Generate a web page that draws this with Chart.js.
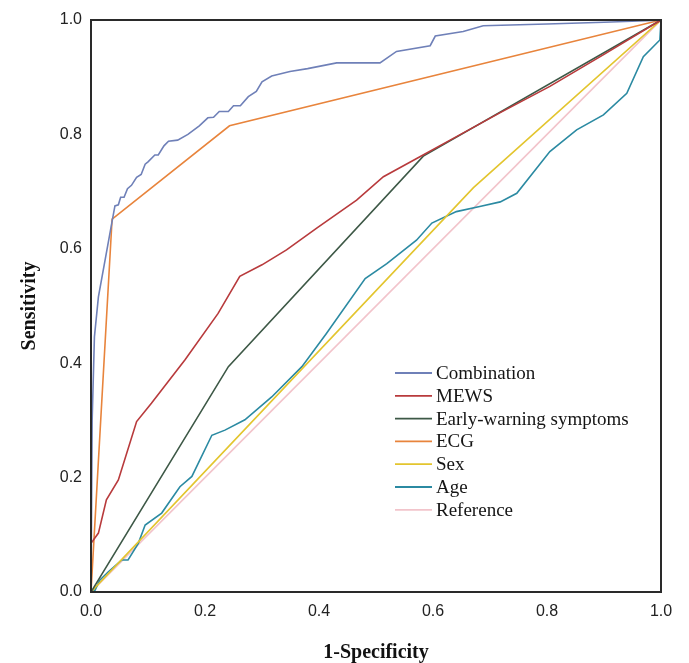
<!DOCTYPE html>
<html>
<head>
<meta charset="utf-8">
<script src="https://cdn.jsdelivr.net/npm/chart.js@4"></script>
<style>
  html, body { margin: 0; padding: 0; background: #fff; }
  #wrap { width: 689px; height: 663px; }
</style>
</head>
<body>
<div id="wrap"><canvas id="roc" width="689" height="663"></canvas></div>
<script>
// ROC curves: [1-specificity, sensitivity]
const seriesNames = ['Combination', 'MEWS', 'Early-warning symptoms', 'ECG', 'Sex', 'Age', 'Reference'];
const seriesColors = ['#6f80b8', '#b83a3c', '#3d5846', '#e8843c', '#e3c52e', '#2b8aa2', '#f2c4cb'];

const combination = [
    [0, 0], [0.002, 0.30], [0.006, 0.446], [0.013, 0.516], [0.039, 0.659],
    [0.042, 0.675], [0.048, 0.677], [0.052, 0.69], [0.058, 0.69], [0.064, 0.705],
    [0.071, 0.711], [0.08, 0.725], [0.088, 0.73], [0.095, 0.748], [0.10, 0.752],
    [0.112, 0.764], [0.118, 0.764], [0.128, 0.78], [0.136, 0.788], [0.152, 0.79],
    [0.17, 0.80], [0.19, 0.815], [0.205, 0.829], [0.215, 0.83], [0.225, 0.84],
    [0.241, 0.84], [0.25, 0.85], [0.262, 0.85], [0.276, 0.866], [0.29, 0.875],
    [0.30, 0.892], [0.317, 0.902], [0.349, 0.91], [0.38, 0.915], [0.431, 0.925],
    [0.507, 0.925], [0.536, 0.945], [0.595, 0.955], [0.604, 0.972], [0.653, 0.98],
    [0.688, 0.99], [0.8, 0.993], [0.9, 0.996], [0.986, 0.999], [1, 1]
];
const mews = [
    [0, 0], [0, 0.085], [0.013, 0.103], [0.027, 0.161], [0.048, 0.196], [0.080, 0.298],
    [0.106, 0.330], [0.165, 0.406], [0.223, 0.487], [0.261, 0.552], [0.30, 0.572],
    [0.343, 0.598], [0.396, 0.636], [0.466, 0.685], [0.513, 0.726], [0.577, 0.761],
    [0.63, 0.79], [0.718, 0.838], [0.805, 0.884], [0.9, 0.94], [1, 1]
];
const earlyWarning = [[0, 0], [0.241, 0.394], [0.583, 0.762], [1, 1]];
const ecg = [[0, 0], [0.037, 0.652], [0.243, 0.815], [1, 1]];
const sex = [[0, 0], [0.671, 0.707], [1, 1]];
const age = [
    [0, 0], [0.007, 0.003], [0.015, 0.02], [0.03, 0.035], [0.054, 0.056], [0.065, 0.056],
    [0.083, 0.085], [0.095, 0.117], [0.124, 0.138], [0.156, 0.184], [0.177, 0.202],
    [0.212, 0.274], [0.235, 0.283], [0.270, 0.301], [0.317, 0.341], [0.37, 0.394],
    [0.413, 0.452], [0.481, 0.548], [0.519, 0.574], [0.571, 0.615], [0.598, 0.645],
    [0.641, 0.665], [0.682, 0.674], [0.718, 0.682], [0.747, 0.697], [0.805, 0.77],
    [0.852, 0.808], [0.899, 0.834], [0.94, 0.872], [0.969, 0.936], [0.998, 0.965], [1, 1]
];
const reference = [[0, 0], [1, 1]];

const axisTicks = [0, 0.2, 0.4, 0.6, 0.8, 1.0];

const allSeries = [combination, mews, earlyWarning, ecg, sex, age, reference];

const datasets = allSeries.map((pts, i) => ({
    label: seriesNames[i],
    data: pts.map(p => ({ x: p[0], y: p[1] })),
    borderColor: seriesColors[i],
    borderWidth: 1.6,
    pointRadius: 0,
    tension: 0,
    showLine: true,
    fill: false
}));

// white page + frame round the plot area
const framePlugin = {
    id: 'frame',
    beforeDraw(chart) {
        const ctx = chart.ctx;
        ctx.save();
        ctx.fillStyle = '#fff';
        ctx.fillRect(0, 0, chart.width, chart.height);
        ctx.restore();
    },
    afterDatasetsDraw(chart) {
        const { ctx, chartArea: a } = chart;
        ctx.save();
        ctx.strokeStyle = '#2a2a2a';
        ctx.lineWidth = 2;
        ctx.strokeRect(a.left, a.top, a.right - a.left, a.bottom - a.top);
        ctx.restore();
    }
};

// legend sits inside the plot, lower right
const insideLegend = {
    id: 'insideLegend',
    afterDraw(chart) {
        const { ctx, chartArea: a } = chart;
        const x0 = a.left + 304;
        const y0 = a.top + 353;
        const rowH = 22.8;
        ctx.save();
        ctx.font = '19px "Liberation Serif", "Times New Roman", serif';
        ctx.textBaseline = 'middle';
        ctx.textAlign = 'left';
        chart.data.datasets.forEach((ds, i) => {
            const y = y0 + i * rowH;
            ctx.strokeStyle = ds.borderColor;
            ctx.lineWidth = 1.8;
            ctx.beginPath();
            ctx.moveTo(x0, y);
            ctx.lineTo(x0 + 37, y);
            ctx.stroke();
            ctx.fillStyle = '#151515';
            ctx.fillText(ds.label, x0 + 41, y + 1);
        });
        ctx.restore();
    }
};

const tickFont = { family: '"Liberation Sans", Arial, sans-serif', size: 16 };
const titleFont = { family: '"Liberation Serif", "Times New Roman", serif', size: 20, weight: 'bold' };

new Chart(document.getElementById('roc'), {
    type: 'scatter',
    data: { datasets },
    options: {
        responsive: false,
        animation: false,
        layout: { padding: { left: 0, right: 28, top: 20, bottom: 0 } },
        plugins: {
            legend: { display: false },
            tooltip: { enabled: false }
        },
        scales: {
            x: {
                type: 'linear',
                min: 0,
                max: 1,
                afterFit(scale) { scale.height = 71; },
                afterBuildTicks(scale) { scale.ticks = axisTicks.map(v => ({ value: v })); },
                grid: { display: false, drawTicks: false },
                border: { display: false },
                ticks: {
                    padding: 10,
                    color: '#222',
                    font: tickFont,
                    maxRotation: 0,
                    callback: v => v.toFixed(1)
                },
                title: {
                    display: true,
                    text: '1-Specificity',
                    color: '#111',
                    font: titleFont,
                    padding: { top: 0, bottom: -2 }
                }
            },
            y: {
                type: 'linear',
                min: 0,
                max: 1,
                afterFit(scale) { scale.width = 91; },
                afterBuildTicks(scale) { scale.ticks = axisTicks.map(v => ({ value: v })); },
                grid: { display: false, drawTicks: false },
                border: { display: false },
                ticks: {
                    padding: 9,
                    color: '#222',
                    font: tickFont,
                    callback: v => v.toFixed(1)
                },
                title: {
                    display: true,
                    text: 'Sensitivity',
                    color: '#111',
                    font: titleFont,
                    padding: { top: 18, bottom: 0 }
                }
            }
        }
    },
    plugins: [framePlugin, insideLegend]
});
</script>
</body>
</html>
